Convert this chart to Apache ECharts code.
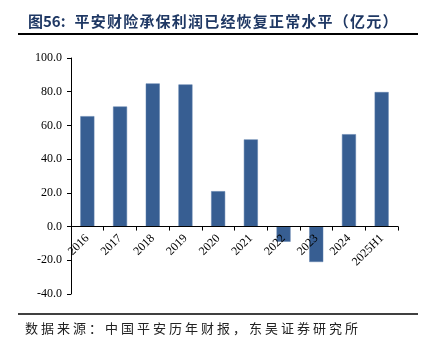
<!DOCTYPE html>
<html lang="zh-CN">
<head>
<meta charset="UTF-8" />
<title>平安财险承保利润</title>
<style>
  html, body { margin: 0; padding: 0; background: #ffffff; }
  .wrap { position: relative; width: 430px; height: 351px; }
  #chart { width: 430px; height: 351px; }
  .title {
    position: absolute; left: 28px; top: 10px;
    font: bold 15px "Noto Sans CJK SC", sans-serif;
    color: #1F3864; white-space: nowrap;
  }
  .title .num { letter-spacing: 0; margin-right: 9px; }
  .title .txt { letter-spacing: 1.2px; }
  .source {
    position: absolute; left: 25px; top: 318px;
    font: 13px "Noto Sans CJK SC", sans-serif;
    color: #222; letter-spacing: 3px; white-space: nowrap;
  }
</style>
</head>
<body>
<div class="wrap">
  <div id="chart"></div>
  <div class="title"><span class="num">图56:</span><span class="txt">平安财险承保利润已经恢复正常水平（亿元）</span></div>
  <div class="source">数据来源：中国平安历年财报，东吴证券研究所</div>
</div>
<script src="https://cdn.jsdelivr.net/npm/echarts@6/dist/echarts.min.js"></script>
<script>
  // 数据
  const years = ['2016', '2017', '2018', '2019', '2020', '2021', '2022', '2023', '2024', '2025H1'];
  const profit = [65.5, 71.2, 84.9, 84.3, 21.0, 51.7, -9.0, -21.0, 54.8, 79.8];
  const yTicks = { min: -40, max: 100, step: 20 };

  const gridTop = 58, gridBottom = 57;
  const plotH = 351 - gridTop - gridBottom;
  // 把 x 轴挪到 0 值处
  const zeroOffset = -plotH * (0 - yTicks.min) / (yTicks.max - yTicks.min);

  const chart = echarts.init(document.getElementById('chart'));
  chart.setOption({
    animation: false,
    backgroundColor: '#ffffff',
    grid: { left: 71, right: 32, top: gridTop, bottom: gridBottom, containLabel: false },
    xAxis: {
      type: 'category',
      data: years,
      offset: zeroOffset,
      zlevel: 1,
      axisLine: { onZero: false, lineStyle: { color: '#000', width: 1 } },
      axisTick: { show: true, length: 4, lineStyle: { color: '#000' } },
      axisLabel: {
        rotate: 45,
        interval: 0,
        margin: 10,
        color: '#000',
        fontFamily: 'Liberation Serif',
        fontSize: 12
      }
    },
    yAxis: {
      type: 'value',
      min: yTicks.min,
      max: yTicks.max,
      interval: yTicks.step,
      splitLine: { show: false },
      axisLine: { show: true, lineStyle: { color: '#000', width: 1 } },
      axisTick: { show: true, length: 4, lineStyle: { color: '#000' } },
      axisLabel: {
        color: '#000',
        fontFamily: 'Liberation Serif',
        fontSize: 12,
        margin: 9,
        formatter: v => v.toFixed(1)
      }
    },
    series: [{
      type: 'bar',
      data: profit,
      barWidth: 14,
      itemStyle: { color: '#375E92', borderColor: '#5a7cab', borderWidth: 0.5 }
    }],
    graphic: [
      {
        type: 'line',
        shape: { x1: 18, y1: 34, x2: 418, y2: 34 },
        style: { stroke: '#000', lineWidth: 2 }
      },
      {
        type: 'line',
        shape: { x1: 18, y1: 314, x2: 418, y2: 314 },
        style: { stroke: '#000', lineWidth: 1.5 }
      }
    ]
  });
</script>
</body>
</html>
